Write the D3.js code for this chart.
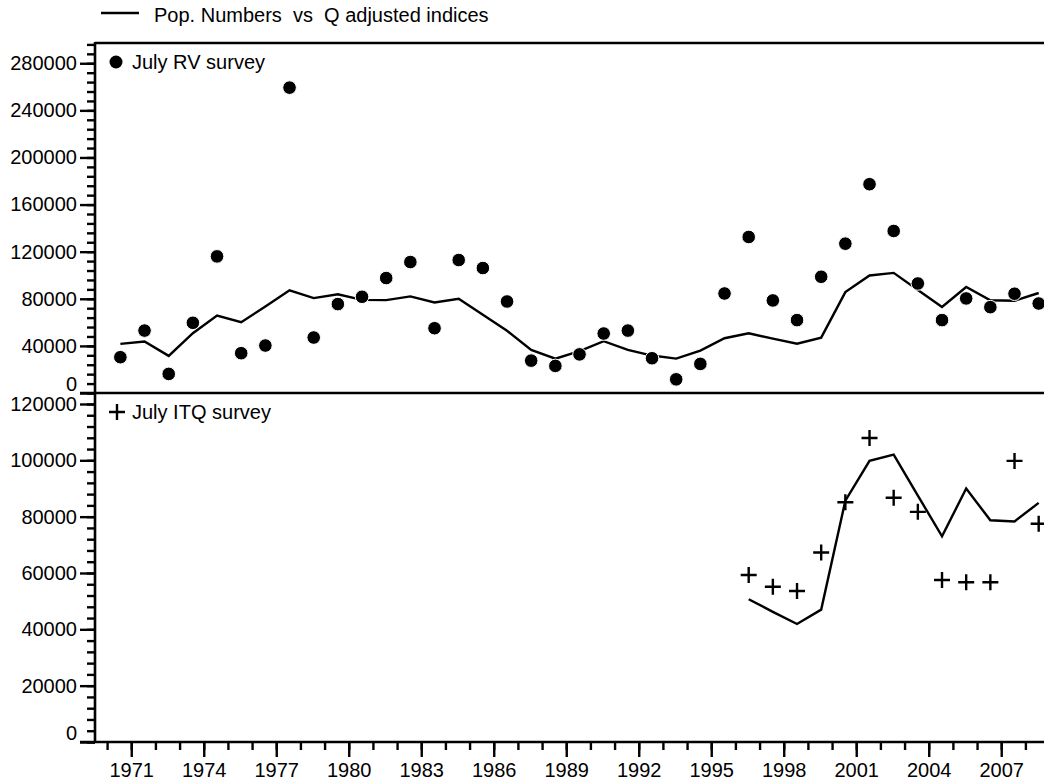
<!DOCTYPE html>
<html>
<head>
<meta charset="utf-8">
<script src="https://cdn.jsdelivr.net/npm/d3@7"></script>
<style>
  body { margin: 0; background: #fff; }
  svg text { font-family: "Liberation Sans", Arial, sans-serif; fill: #000; }
</style>
</head>
<body>
<div id="chart"></div>
<script>
// Years of the assessment
const years = [1970, 1971, 1972, 1973, 1974, 1975, 1976, 1977, 1978, 1979,
               1980, 1981, 1982, 1983, 1984, 1985, 1986, 1987, 1988, 1989,
               1990, 1991, 1992, 1993, 1994, 1995, 1996, 1997, 1998, 1999,
               2000, 2001, 2002, 2003, 2004, 2005, 2006, 2007, 2008];

// Population numbers (line, both panels)
const popNumbers = [41700, 43700, 31500, 50800, 65800, 60100, 73400, 87200, 80600, 83800,
                    79100, 78900, 82000, 76900, 80000, 66400, 52800, 36600, 29200, 35500,
                    44000, 36600, 31800, 29200, 36000, 46500, 50700, 46200, 41900, 47000,
                    85700, 99800, 102000, 87500, 73000, 90000, 78700, 78300, 84900];

// Q adjusted July RV survey index (dots, top panel)
const rvSurvey = [30400, 53000, 16200, 59600, 116000, 33800, 40300, 259300, 47100, 75500,
                  81700, 97600, 111200, 55000, 112900, 106100, 77700, 27500, 23000, 32800,
                  50500, 53000, 29500, 11600, 24700, 84500, 132500, 78600, 61900, 98700,
                  126800, 177300, 137600, 93000, 61900, 80300, 72900, 84300, 76000];

// Q adjusted July ITQ survey index (crosses, bottom panel)
const itqYears = [1996, 1997, 1998, 1999, 2000, 2001, 2002, 2003, 2004, 2005, 2006, 2007, 2008];
const itqSurvey = [59300, 55100, 53600, 67300, 85100, 107900, 86700, 81700, 57500, 56700, 56700, 99800, 77500];

// Tick values
const yearTicks = [1971, 1974, 1977, 1980, 1983, 1986, 1989, 1992, 1995, 1998, 2001, 2004, 2007];
const topTicks = [0, 40000, 80000, 120000, 160000, 200000, 240000, 280000];
const botTicks = [0, 20000, 40000, 60000, 80000, 100000, 120000];

const width = 1044, height = 784;
const left = 95, right = 1044;
const topY = 43, midY = 393, botY = 742;
const pointOffset = 0.55; // points sit inside the year interval

const svg = d3.select("#chart").append("svg")
    .attr("width", width)
    .attr("height", height);

const x = d3.scaleLinear().domain([1969.5, 2008.77]).range([left, right]);
const yTop = d3.scaleLinear().domain([0, 297200]).range([midY, topY]);
const yBot = d3.scaleLinear().domain([0, 123900]).range([botY, midY]);

// Minor ticks
function minor(step, max) {
    const out = [];
    for (let v = 0; v <= max; v += step) out.push(v);
    return out;
}

// Y axes (major with labels, minor without)
function yAxis(scale, majors, step) {
    const max = scale.domain()[1];
    const gMinor = svg.append("g")
        .attr("transform", `translate(${left},0)`)
        .call(d3.axisLeft(scale).tickValues(minor(step, max)).tickSize(8).tickFormat(""));
    const gMajor = svg.append("g")
        .attr("transform", `translate(${left},0)`)
        .call(d3.axisLeft(scale).tickValues(majors).tickSize(15).tickPadding(3).tickFormat(d3.format("d")));
    [gMinor, gMajor].forEach(g => {
        g.select(".domain").remove();
        g.selectAll("line").attr("stroke", "#000").attr("stroke-width", 2.4);
    });
    gMajor.selectAll("text")
        .style("font-size", "20px")
        .attr("fill", "#000");
    gMajor.selectAll(".tick").filter(d => d === 0).select("text").attr("dy", "-0.15em");
    return gMajor;
}

yAxis(yTop, topTicks, 8000);
yAxis(yBot, botTicks, 4000);

// X axis
const xMinor = svg.append("g")
    .attr("transform", `translate(0,${botY})`)
    .call(d3.axisBottom(x).tickValues(years).tickSize(8).tickFormat(""));
const xMajor = svg.append("g")
    .attr("transform", `translate(0,${botY})`)
    .call(d3.axisBottom(x).tickValues(yearTicks).tickSize(15).tickPadding(6).tickFormat(d3.format("d")));
[xMinor, xMajor].forEach(g => {
    g.select(".domain").remove();
    g.selectAll("line").attr("stroke", "#000").attr("stroke-width", 2.4);
});
xMajor.selectAll("text").style("font-size", "20px").attr("fill", "#000");

// Frame lines
const frame = svg.append("g").attr("stroke", "#000").attr("stroke-width", 2.6);
frame.append("line").attr("x1", left).attr("x2", right).attr("y1", topY).attr("y2", topY);
frame.append("line").attr("x1", 80).attr("x2", right).attr("y1", midY).attr("y2", midY);
frame.append("line").attr("x1", 80).attr("x2", right).attr("y1", botY).attr("y2", botY);
frame.append("line").attr("x1", left).attr("x2", left).attr("y1", topY - 1).attr("y2", botY + 1);

// Top panel: line + dots
const lineTop = d3.line()
    .x((d, i) => x(years[i] + pointOffset))
    .y(d => yTop(d));

svg.append("path")
    .datum(popNumbers)
    .attr("fill", "none")
    .attr("stroke", "#000")
    .attr("stroke-width", 2.4)
    .attr("d", lineTop);

svg.append("g")
    .selectAll("circle")
    .data(rvSurvey)
    .enter().append("circle")
    .attr("cx", (d, i) => x(years[i] + pointOffset))
    .attr("cy", d => yTop(d))
    .attr("r", 6.8)
    .attr("fill", "#000")
    .attr("stroke", "#fff")
    .attr("stroke-width", 1);

// Bottom panel: line for ITQ period + crosses
const botLine = years.map((yr, i) => ({ yr, v: popNumbers[i] })).filter(d => d.yr >= itqYears[0]);

svg.append("path")
    .datum(botLine)
    .attr("fill", "none")
    .attr("stroke", "#000")
    .attr("stroke-width", 2.4)
    .attr("d", d3.line().x(d => x(d.yr + pointOffset)).y(d => yBot(d.v)));

svg.append("g")
    .selectAll("path")
    .data(itqSurvey)
    .enter().append("path")
    .attr("d", (d, i) => {
        const cx = x(itqYears[i] + pointOffset), cy = yBot(d), s = 8;
        return `M${cx - s},${cy}H${cx + s}M${cx},${cy - s}V${cy + s}`;
    })
    .attr("stroke", "#000")
    .attr("stroke-width", 2.4)
    .attr("fill", "none");

// Legends
svg.append("line")
    .attr("x1", 101).attr("x2", 139).attr("y1", 13).attr("y2", 13)
    .attr("stroke", "#000").attr("stroke-width", 2.4);
svg.append("text")
    .attr("x", 154).attr("y", 22)
    .style("font-size", "20px")
    .style("white-space", "pre")
    .attr("xml:space", "preserve")
    .text("Pop. Numbers  vs  Q adjusted indices");

svg.append("circle")
    .attr("cx", 116).attr("cy", 62).attr("r", 6.5).attr("fill", "#000");
svg.append("text")
    .attr("x", 132).attr("y", 69)
    .style("font-size", "20px")
    .text("July RV survey");

svg.append("path")
    .attr("d", "M109,412H125M117,404V420")
    .attr("stroke", "#000").attr("stroke-width", 2.4);
svg.append("text")
    .attr("x", 132).attr("y", 419)
    .style("font-size", "20px")
    .text("July ITQ survey");
</script>
</body>
</html>
